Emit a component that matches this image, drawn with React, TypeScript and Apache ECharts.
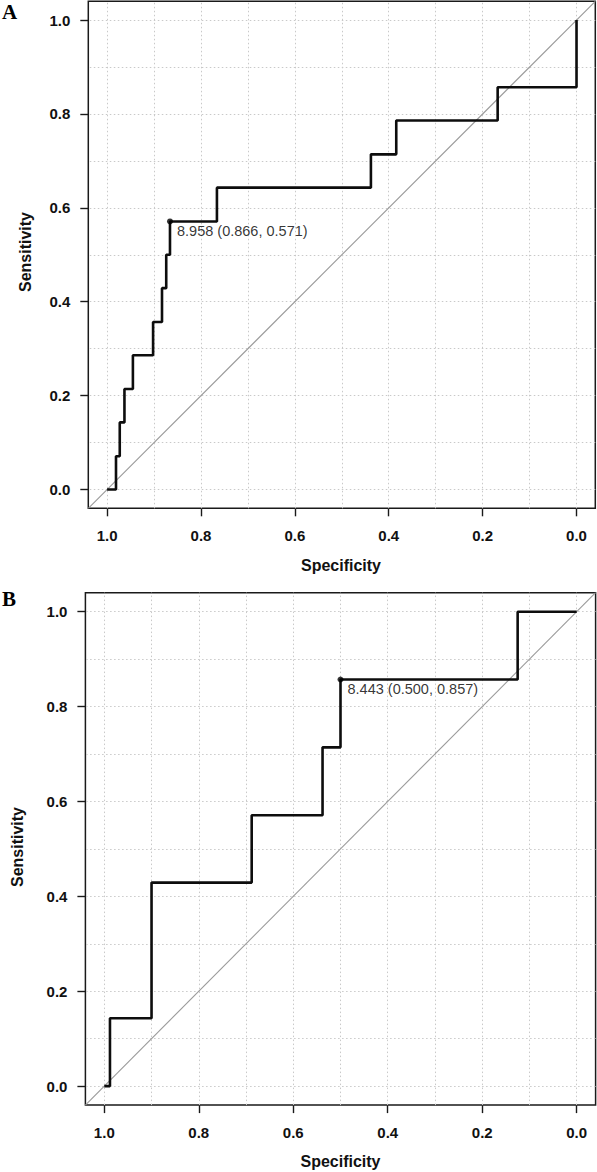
import React, { useEffect, useRef } from "react";
import * as echarts from "echarts";

// ---- data ----
const tickValues = [0, 0.2, 0.4, 0.6, 0.8, 1.0];
const gridValues = [0, 0.1, 0.2, 0.3, 0.4, 0.5, 0.6, 0.7, 0.8, 0.9, 1.0];
const axisMin = -0.04;
const axisMax = 1.04;

// Panel A ROC points (specificity, sensitivity)
const specA = [1.0, 0.981, 0.981, 0.973, 0.973, 0.963, 0.963, 0.945, 0.945, 0.902, 0.902, 0.883, 0.883, 0.874, 0.874, 0.866, 0.866, 0.766, 0.766, 0.438, 0.438, 0.384, 0.384, 0.168, 0.168, 0.0, 0.0];
const sensA = [0.0, 0.0, 0.071, 0.071, 0.143, 0.143, 0.214, 0.214, 0.286, 0.286, 0.357, 0.357, 0.429, 0.429, 0.5, 0.5, 0.571, 0.571, 0.643, 0.643, 0.714, 0.714, 0.786, 0.786, 0.857, 0.857, 1.0];
const bestA = [8.958, 0.866, 0.571]; // threshold, specificity, sensitivity

// Panel B ROC points
const specB = [1.0, 0.988, 0.988, 0.9, 0.9, 0.688, 0.688, 0.538, 0.538, 0.5, 0.5, 0.125, 0.125, 0.0];
const sensB = [0.0, 0.0, 0.143, 0.143, 0.429, 0.429, 0.571, 0.571, 0.714, 0.714, 0.857, 0.857, 1.0, 1.0];
const bestB = [8.443, 0.5, 0.857];

// chance diagonal (sensitivity = 1 - specificity across the plot box)
const diagSpec = [1.04, -0.04];
const diagSens = [-0.04, 1.04];

const FONT = "'Liberation Sans', Arial, Helvetica, sans-serif";

function zip(a: number[], b: number[]) {
  return a.map((v, i) => [v, b[i]]);
}

export default function App() {
  const ref = useRef<HTMLDivElement>(null);
  useEffect(() => {
    if (!ref.current) return;
    const chart = echarts.init(ref.current, null, { renderer: "svg" });

    const grids = [
      { left: 88.3, top: 1.3, width: 507, height: 507 },
      { left: 85.4, top: 592.7, width: 510.2, height: 512.4 },
    ];

    const tickCommon = {
      show: true,
      customValues: tickValues,
      length: 8,
      inside: false,
      lineStyle: { color: "#1a1a1a", width: 1.4 },
    };
    const labelCommon = {
      show: true,
      customValues: tickValues,
      formatter: (v: number) => v.toFixed(1),
      fontFamily: FONT,
      fontSize: 15,
      fontWeight: "bold",
      color: "#111",
    };

    const mkX = (gi: number) => ({
      type: "value",
      gridIndex: gi,
      min: axisMin,
      max: axisMax,
      inverse: true,
      position: "bottom",
      axisLine: { show: false, onZero: false },
      axisTick: tickCommon,
      axisLabel: { ...labelCommon, margin: 20 },
      splitLine: { show: false },
    });
    const mkY = (gi: number) => ({
      type: "value",
      gridIndex: gi,
      min: axisMin,
      max: axisMax,
      position: "left",
      axisLine: { show: false, onZero: false },
      axisTick: tickCommon,
      axisLabel: { ...labelCommon, margin: 18 },
      splitLine: { show: false },
    });

    const gridMarks = {
      silent: true,
      z: 1,
      symbol: ["none", "none"],
      label: { show: false },
      lineStyle: { type: [1.5, 2.5], color: "#c9c9c9", width: 1 },
      data: [
        ...gridValues.map((v) => ({ xAxis: v })),
        ...gridValues.map((v) => ({ yAxis: v })),
      ],
    };

    const mkSeries = (gi: number, spec: number[], sens: number[], best: number[]) => [
      {
        type: "line",
        xAxisIndex: gi,
        yAxisIndex: gi,
        data: zip(diagSpec, diagSens),
        symbol: "none",
        lineStyle: { color: "#9a9a9a", width: 1.1 },
        z: 2,
        markLine: gridMarks,
      },
      {
        type: "line",
        xAxisIndex: gi,
        yAxisIndex: gi,
        data: zip(spec, sens),
        symbol: "none",
        lineStyle: { color: "#0d0d0d", width: 2.6 },
        z: 10,
      },
      {
        type: "scatter",
        xAxisIndex: gi,
        yAxisIndex: gi,
        data: [[best[1], best[2]]],
        symbol: "circle",
        symbolSize: 6,
        itemStyle: { color: "#000" },
        z: 11,
        label: {
          show: true,
          position: "right",
          distance: 4,
          offset: [0, 9.5],
          formatter: () =>
            `${best[0].toFixed(3)} (${best[1].toFixed(3)}, ${best[2].toFixed(3)})`,
          fontFamily: FONT,
          fontSize: 14.5,
          color: "#000",
          textBorderWidth: 0,
        },
      },
    ];

    const titleStyle = {
      fontFamily: FONT,
      fontSize: 16,
      fontWeight: "bold",
      fill: "#111",
      align: "center",
      verticalAlign: "middle",
    };
    const letterStyle = {
      fontFamily: "'Liberation Serif', 'Times New Roman', serif",
      fontSize: 21,
      fontWeight: "bold",
      fill: "#000",
      align: "left",
      verticalAlign: "middle",
    };

    chart.setOption({
      animation: false,
      backgroundColor: "#fff",
      grid: grids.map((g) => ({
        ...g,
        show: true,
        borderColor: "#1a1a1a",
        borderWidth: 1.5,
        backgroundColor: "transparent",
        containLabel: false,
      })),
      xAxis: [mkX(0), mkX(1)],
      yAxis: [mkY(0), mkY(1)],
      series: [...mkSeries(0, specA, sensA, bestA), ...mkSeries(1, specB, sensB, bestB)],
      graphic: [
        { type: "text", x: 2, y: 12, style: { ...letterStyle, text: "A" } },
        { type: "text", x: 2, y: 599, style: { ...letterStyle, text: "B" } },
        { type: "text", x: 341, y: 565, style: { ...titleStyle, text: "Specificity" } },
        { type: "text", x: 25, y: 252, rotation: Math.PI / 2, style: { ...titleStyle, text: "Sensitivity" } },
        { type: "text", x: 340.5, y: 1161.5, style: { ...titleStyle, text: "Specificity" } },
        { type: "text", x: 17, y: 847, rotation: Math.PI / 2, style: { ...titleStyle, text: "Sensitivity" } },
      ],
    });
    return () => chart.dispose();
  }, []);
  return (
    <div
      ref={ref}
      style={{ position: "absolute", left: 0, top: 0, width: 597, height: 1172 }}
    />
  );
}
